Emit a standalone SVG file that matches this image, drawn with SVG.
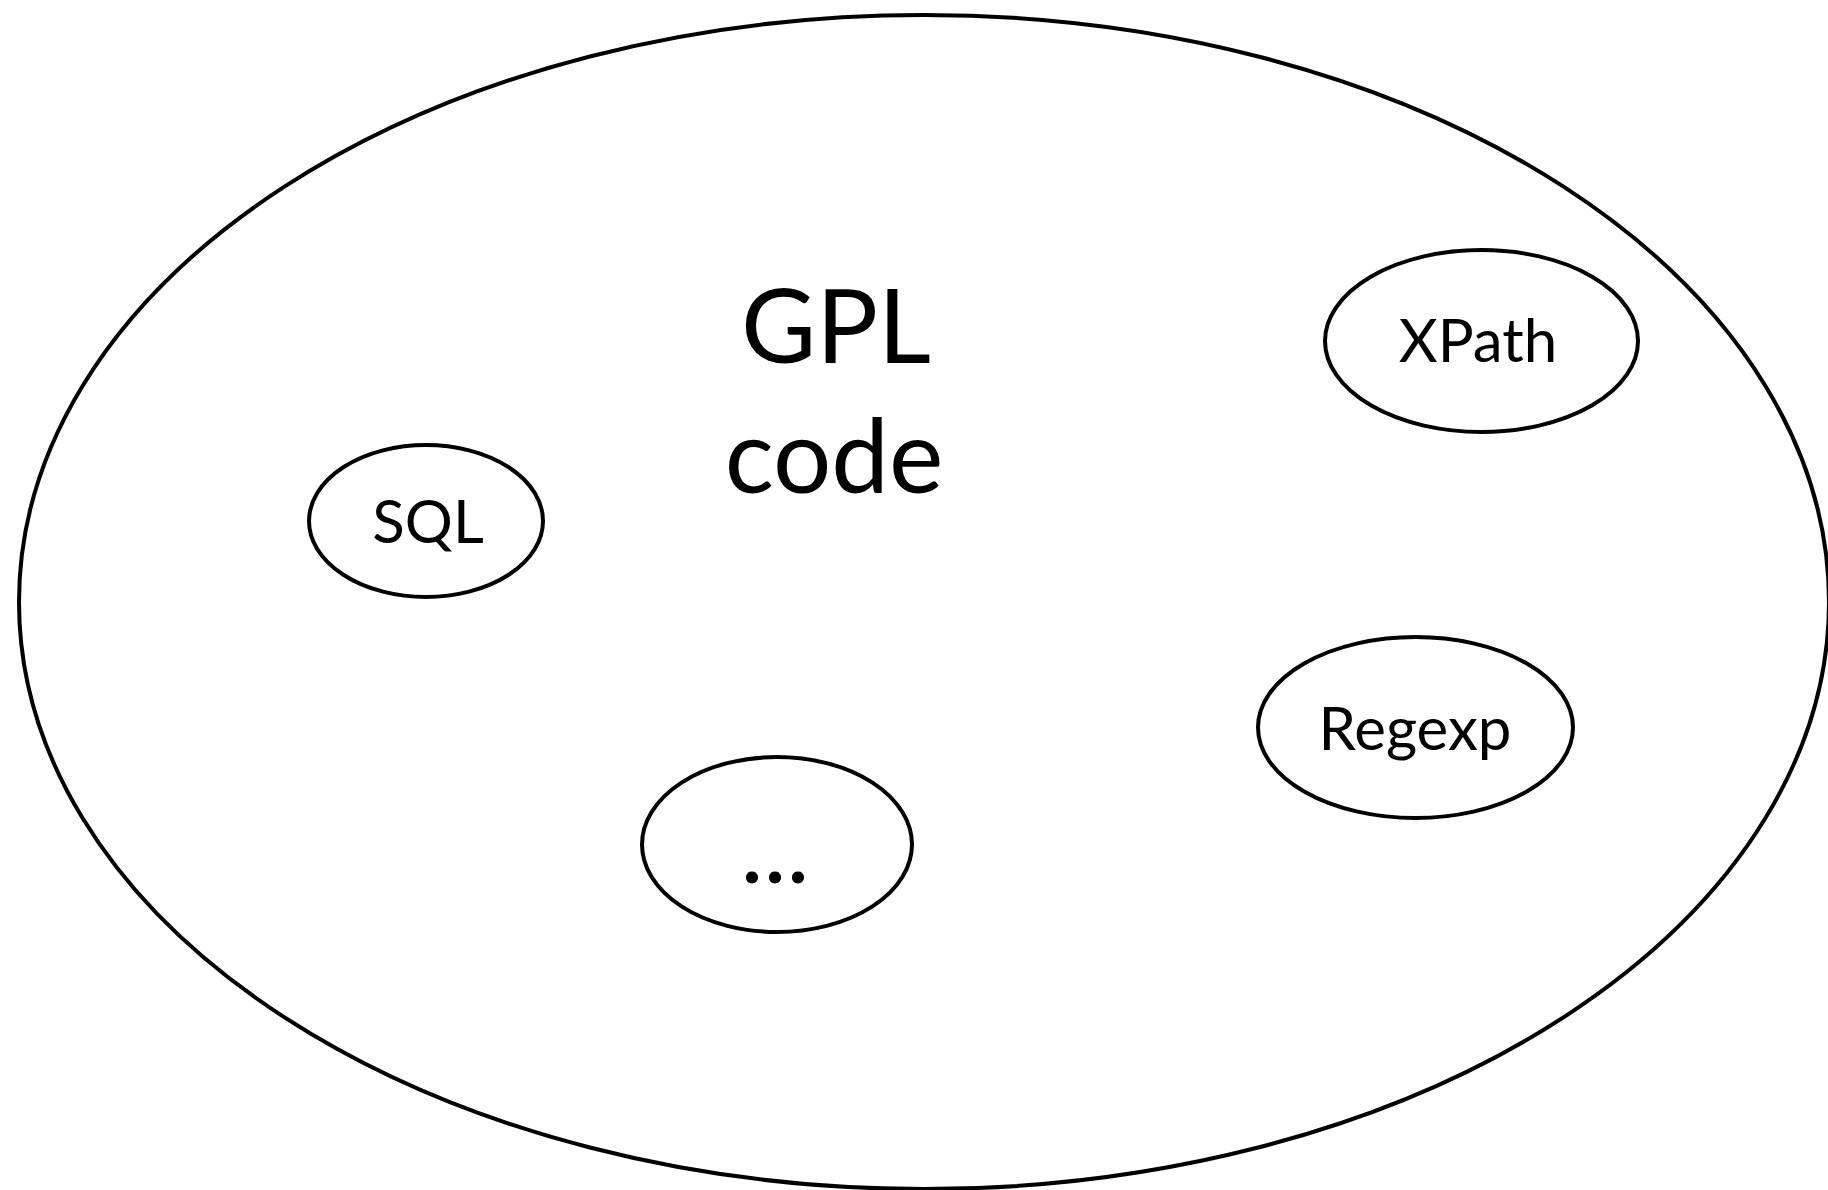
<svg xmlns="http://www.w3.org/2000/svg" width="1828" height="1190" viewBox="0 0 1828 1190">
  <style>
    .shape { fill: none; stroke: #000; stroke-width: 4; }
    .label { font-family: Lato, "Open Sans", "Liberation Sans", sans-serif; fill: #000; text-anchor: middle; }
    .small { font-size: 60px; }
    .big { font-size: 103px; }
  </style>
  <rect width="1828" height="1190" fill="#fff"/>
  <g id="gpl-code">
    <ellipse class="shape" cx="924" cy="602" rx="905" ry="587"/>
    <text class="label big" x="836" y="363">GPL</text>
    <text class="label big" x="834" y="493">code</text>
  </g>
  <g id="sql">
    <ellipse class="shape" cx="426" cy="521" rx="117" ry="76"/>
    <text class="label small" x="428" y="543">SQL</text>
  </g>
  <g id="xpath">
    <ellipse class="shape" cx="1481.5" cy="341" rx="156.5" ry="91"/>
    <text class="label small" x="1478" y="362">XPath</text>
  </g>
  <g id="regexp">
    <ellipse class="shape" cx="1415.5" cy="727.5" rx="157.5" ry="90.5"/>
    <text class="label small" x="1415" y="750">Regexp</text>
  </g>
  <g id="more">
    <ellipse class="shape" cx="777" cy="844.5" rx="135" ry="87.5"/>
    <text class="label" x="777" y="883" font-size="80" font-weight="bold" letter-spacing="4">...</text>
  </g>
  <g id="connectors"/>
</svg>
